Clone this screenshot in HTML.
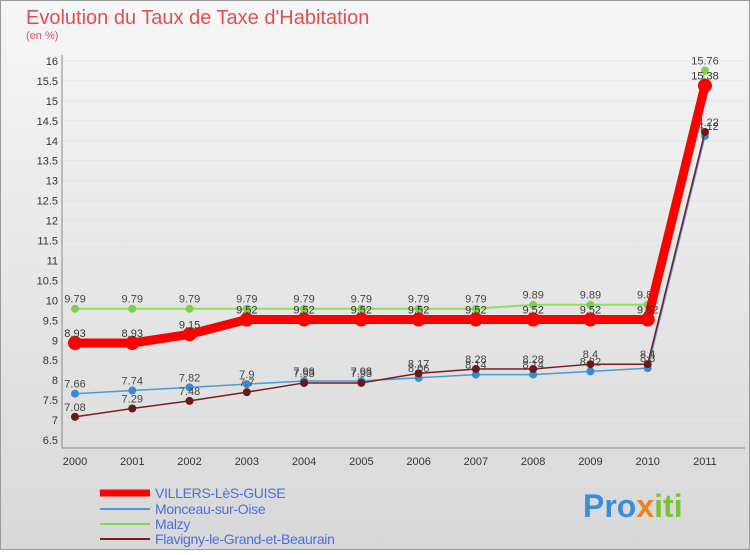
<!DOCTYPE html>
<html><head><meta charset="utf-8"><style>
body{margin:0;}
#c{width:750px;height:550px;position:relative;font-family:"Liberation Sans",sans-serif;}
</style></head><body>
<div id="c">
<svg id="s" width="750" height="550" xmlns="http://www.w3.org/2000/svg">
<defs><linearGradient id="bg" x1="0" y1="0" x2="0" y2="1"><stop offset="0" stop-color="#f6f6f6"/><stop offset="1" stop-color="#d8d8d8"/></linearGradient></defs>
<rect x="0.5" y="0.5" width="749" height="549" fill="url(#bg)" stroke="#999"/>
<text x="26" y="24" font-size="20" fill="#e05050">Evolution du Taux de Taxe d'Habitation</text>
<text x="26" y="39" font-size="11" fill="#e05050">(en %)</text>
<g id="axes"></g><g id="series"></g>
<g font-size="14" letter-spacing="-0.3">
<line x1="100" y1="493" x2="150" y2="493" stroke="#ff0000" stroke-width="7"/>
<text x="155" y="498" fill="#4a6fd8">VILLERS-LèS-GUISE</text>
<line x1="100" y1="509" x2="150" y2="509" stroke="#4a9ad8" stroke-width="2"/>
<text x="155" y="514" fill="#4a6fd8">Monceau-sur-Oise</text>
<line x1="100" y1="524" x2="150" y2="524" stroke="#7dd84a" stroke-width="2"/>
<text x="155" y="529" fill="#4a6fd8">Malzy</text>
<line x1="100" y1="539" x2="150" y2="539" stroke="#7a1c1c" stroke-width="2"/>
<text x="155" y="544" fill="#4a6fd8">Flavigny-le-Grand-et-Beaurain</text>
</g>
<text x="583" y="517" font-size="32" font-weight="bold" fill="#3a8ed8">Pro<tspan fill="#f08020">x</tspan><tspan fill="#7cc03a">iti</tspan></text>
</svg></div>
<script>
const years=[2000,2001,2002,2003,2004,2005,2006,2007,2008,2009,2010,2011];
const villers=[8.93,8.93,9.15,9.52,9.52,9.52,9.52,9.52,9.52,9.52,9.52,15.38];
const monceau=[7.66,7.74,7.82,7.9,7.98,7.98,8.06,8.14,8.14,8.22,8.3,14.12];
const malzy=[9.79,9.79,9.79,9.79,9.79,9.79,9.79,9.79,9.89,9.89,9.89,15.76];
const flavigny=[7.08,7.29,7.48,7.7,7.93,7.93,8.17,8.28,8.28,8.4,8.4,14.22];
const yTicks=[6.5,7,7.5,8,8.5,9,9.5,10,10.5,11,11.5,12,12.5,13,13.5,14,14.5,15,15.5,16];
const NS="http://www.w3.org/2000/svg";
const x=i=>75+i*57.27, y=v=>440-(v-6.5)*39.9;
function mk(t,a,p){const e=document.createElementNS(NS,t);for(const k in a)e.setAttribute(k,a[k]);p.appendChild(e);return e;}
const ax=document.getElementById('axes'), sr=document.getElementById('series');
yTicks.forEach(v=>{
 const g=mk('line',{x1:62,x2:745,y1:y(v),y2:y(v),stroke:'#e4e4e4','stroke-width':1},ax);
 
 
 const t=mk('text',{x:58,y:y(v)+4,'font-size':11,fill:'#333','text-anchor':'end'},ax);t.textContent=v;
 
 
});
const yl=mk('line',{x1:62,x2:62,y1:55,y2:448,stroke:'#888'},ax);


const xl=mk('line',{x1:62,x2:745,y1:448,y2:448,stroke:'#888'},ax);


years.forEach((yr,i)=>{
 const t=mk('text',{x:x(i),y:465,'font-size':11,fill:'#333','text-anchor':'middle'},ax);t.textContent=yr;
 
 
});
function draw(data,name,color,w,r,dot,lbl){
 const pl=mk('polyline',{points:data.map((v,i)=>x(i)+','+y(v)).join(' '),fill:'none',stroke:color,'stroke-width':w,'stroke-linejoin':'round'},sr);
 
 
 data.forEach((v,i)=>{
  const c=mk('circle',{cx:x(i),cy:y(v),r:r,fill:dot},sr);
  
  
  const t=mk('text',{x:x(i),y:y(v)-6,'font-size':11,fill:lbl,'text-anchor':'middle'},sr);t.textContent=v;
  
  
 });
}
draw(monceau,'monceau','#4a9ad8',1.5,4,'#3a8ad0','#444');
draw(malzy,'malzy','#8ee05a',2,4,'#7cd04a','#444');
draw(flavigny,'flavigny','#7a1c1c',1.5,4,'#6a1818','#444');
draw(villers,'villers','#ff0000',9,7,'#ff0000','#333');
</script>
</body></html>
